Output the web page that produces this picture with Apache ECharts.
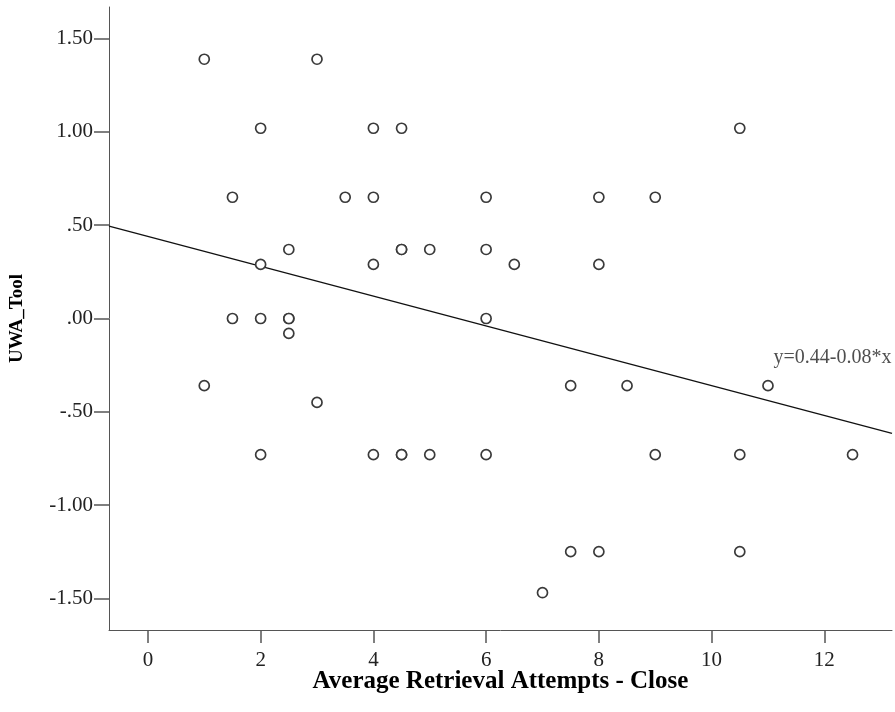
<!DOCTYPE html>
<html>
<head>
<meta charset="utf-8">
<script src="https://cdn.jsdelivr.net/npm/echarts@6/dist/echarts.min.js"></script>
<style>
  html, body { margin: 0; padding: 0; background: #fff; }
  #chart { width: 895px; height: 712px; }
</style>
</head>
<body>
<div id="chart"></div>
<script>
// Observations: average retrieval attempts (close) vs. UWA_Tool score
const attempts = [
  1, 3,
  2, 4, 4.5, 10.5,
  1.5, 3.5, 4, 6, 8, 9,
  2.5, 4.5, 4.5, 5, 6,
  2, 4, 6.5, 8,
  1.5, 2, 2.5, 2.5, 6,
  2.5,
  1, 7.5, 8.5, 11,
  3,
  2, 4, 4.5, 4.5, 5, 6, 9, 10.5, 12.5,
  7.5, 8, 10.5,
  7
];
const uwaTool = [
  1.39, 1.39,
  1.02, 1.02, 1.02, 1.02,
  0.65, 0.65, 0.65, 0.65, 0.65, 0.65,
  0.37, 0.37, 0.37, 0.37, 0.37,
  0.29, 0.29, 0.29, 0.29,
  0.00, 0.00, 0.00, 0.00, 0.00,
  -0.08,
  -0.36, -0.36, -0.36, -0.36,
  -0.45,
  -0.73, -0.73, -0.73, -0.73, -0.73, -0.73, -0.73, -0.73, -0.73,
  -1.25, -1.25, -1.25,
  -1.47
];

// Linear fit y = intercept + slope * x
const intercept = 0.44;
const slope = -0.08;

const xTicks = [0, 2, 4, 6, 8, 10, 12];
const yTicks = [-1.5, -1.0, -0.5, 0.0, 0.5, 1.0, 1.5];

const xMin = -0.69, xMax = 13.2;
const yMin = -1.67, yMax = 1.67;

const points = attempts.map((x, i) => [x, uwaTool[i]]);
const fitLine = [xMin, xMax].map(x => [x, intercept + slope * x]);
const fitText = 'y=' + intercept.toFixed(2) + '-' + Math.abs(slope).toFixed(2) + '*x';

function fmtY(v) {
  const s = Math.abs(v).toFixed(2).replace(/^0/, '');
  return (v < 0 ? '-' : '') + s;
}

const serif = '"Liberation Serif", "DejaVu Serif", serif';
const axisGray = '#555';

const chart = echarts.init(document.getElementById('chart'), null, { renderer: 'canvas' });
chart.setOption({
  animation: false,
  backgroundColor: '#fff',
  grid: { left: 109, right: 3, top: 7, bottom: 82, containLabel: false },
  xAxis: {
    type: 'value',
    min: xMin,
    max: xMax,
    name: 'Average Retrieval Attempts - Close',
    nameLocation: 'middle',
    nameGap: 39,
    nameMoveOverlap: false,
    nameTextStyle: { fontFamily: serif, fontWeight: 'bold', fontSize: 25, color: '#000' },
    axisLine: { show: true, onZero: false, lineStyle: { color: axisGray, width: 1 } },
    axisTick: { show: true, length: 13, customValues: xTicks, lineStyle: { color: axisGray, width: 1.5 } },
    axisLabel: { customValues: xTicks, margin: 20, fontFamily: serif, fontSize: 21, color: '#222' },
    splitLine: { show: false }
  },
  yAxis: {
    type: 'value',
    min: yMin,
    max: yMax,
    name: 'UWA_Tool',
    nameLocation: 'middle',
    nameGap: 82,
    nameMoveOverlap: false,
    nameRotate: 90,
    nameTextStyle: { fontFamily: serif, fontWeight: 'bold', fontSize: 19, color: '#000' },
    axisLine: { show: true, onZero: false, lineStyle: { color: axisGray, width: 1 } },
    axisTick: { show: true, length: 15, customValues: yTicks, lineStyle: { color: axisGray, width: 1.5 } },
    axisLabel: { customValues: yTicks, margin: 16, fontFamily: serif, fontSize: 21, color: '#222', formatter: fmtY },
    splitLine: { show: false }
  },
  series: [
    {
      type: 'line',
      data: fitLine,
      showSymbol: false,
      lineStyle: { color: '#111', width: 1.3 },
      silent: true,
      z: 2
    },
    {
      type: 'scatter',
      data: points,
      symbol: 'circle',
      symbolSize: 10,
      itemStyle: { color: '#fff', borderColor: '#3a3a3a', borderWidth: 1.7, opacity: 1 },
      z: 3
    },
    {
      type: 'scatter',
      data: [fitLine[1]],
      symbolSize: 1,
      itemStyle: { color: 'rgba(0,0,0,0)' },
      label: {
        show: true,
        formatter: fitText,
        position: 'left',
        distance: 0,
        align: 'right',
        offset: [0, -76],
        fontFamily: serif,
        fontSize: 20,
        color: '#222'
      },
      silent: true,
      z: 4
    }
  ]
});
</script>
</body>
</html>
